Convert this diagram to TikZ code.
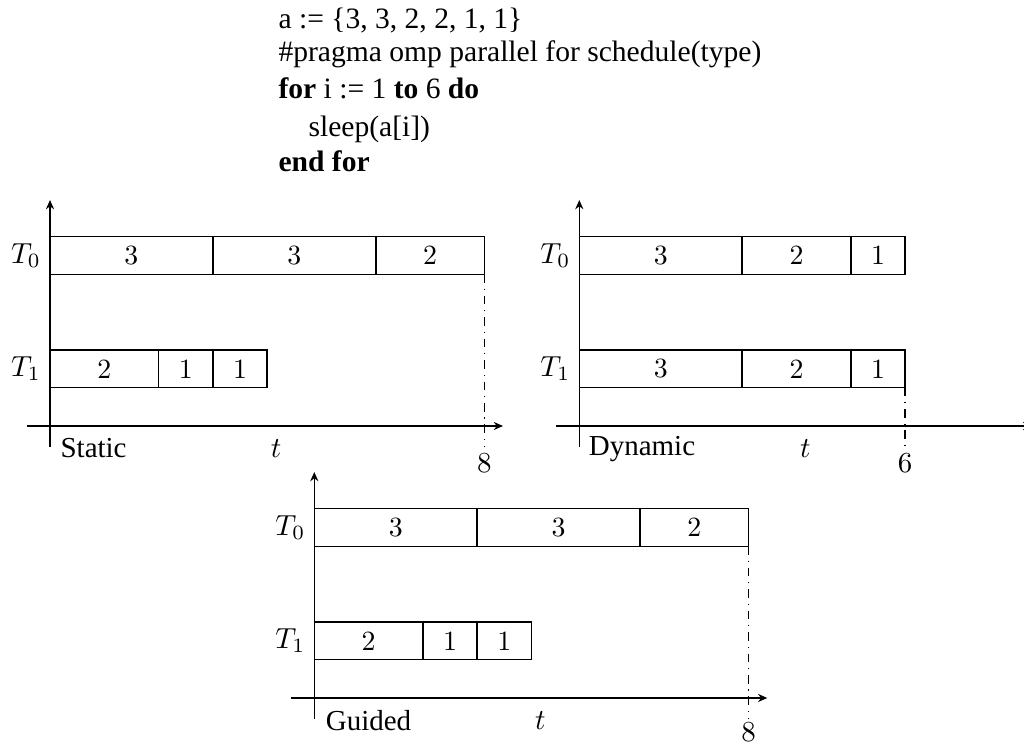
\documentclass[tikz,border=0pt]{standalone}
\usepackage{fontspec}
\newfontfamily\codefont{Liberation Serif}
\usetikzlibrary{arrows.meta}
\tikzset{
  job/.style={draw, line width=0.5pt, rectangle, inner sep=0pt, outer sep=0pt, minimum height=12.97pt, anchor=west, font=\fontsize{9.6}{11}\selectfont},
  wa/.style={minimum width=18.73pt},
  wb/.style={minimum width=37.47pt},
  wc/.style={minimum width=56.2pt},
  axis/.style={line width=0.5pt, -{Stealth[length=3.2pt,width=2.8pt]}},
  guide/.style={dashdotted, line width=0.5pt},
  code/.style={anchor=base west, inner sep=0pt, font=\codefont\fontsize{10.2}{12}\selectfont},
  tlab/.style={inner sep=0pt, font=\fontsize{10}{12}\selectfont},
  kind/.style={anchor=base west, inner sep=0pt, font=\codefont\fontsize{10}{12}\selectfont},
  tick/.style={inner sep=0pt, font=\fontsize{10}{12}\selectfont},
}
\begin{document}
\begin{tikzpicture}[x=0.345pt, y=-0.345pt]
\useasboundingbox (0,0) rectangle (1024,744);
% code
\node[code] (c1) at (278,28.3) {a := \{3, 3, 2, 2, 1, 1\}};
\node[code] (c2) at (278,61.7) {\#pragma omp parallel for schedule(type)};
\node[code] (c3) at (278,99) {\textbf{for} i := 1 \textbf{to} 6 \textbf{do}};
\node[code] (c4) at (308,136.7) {sleep(a[i])};
\node[code] (c5) at (278,171.7) {\textbf{end for}};

% static
\begin{scope}[shift={(50,426)}, name prefix=s-]
  \coordinate (yb) at (0,21);
  \coordinate (yt) at (0,-226);
  \coordinate (xl) at (-23,0);
  \coordinate (xr) at (453,0);
  \draw[axis] (yb) -- (yt);
  \draw[axis] (xl) -- (xr);
  \node[job,wc] (a0) at (0,-170.5) {3};
  \node[job,wc] (a1) at (a0.east) {3};
  \node[job,wb] (a2) at (a1.east) {2};
  \node[job,wb] (b0) at (0,-57.2) {2};
  \node[job,wa] (b1) at (b0.east) {1};
  \node[job,wa] (b2) at (b1.east) {1};
  \node[tlab] (l0) at (-24,-170.5) {$T_0$};
  \node[tlab] (l1) at (-24,-57.2) {$T_1$};
  \node[kind] (nm) at (10,31) {Static};
  \node[tlab, anchor=base] (t) at (226,31) {$t$};
  \coordinate (e) at (a2.south east |- yb);
  \node[tick] (fin) at (434.4,37) {8};
  \draw[guide] (a2.south east) -- (e);
\end{scope}

% dynamic
\begin{scope}[shift={(579.3,426)}, name prefix=d-]
  \coordinate (yb) at (0,21);
  \coordinate (yt) at (0,-226);
  \coordinate (xl) at (-23,0);
  \coordinate (xr) at (453,0);
  \draw[axis] (yb) -- (yt);
  \draw[axis] (xl) -- (xr);
  \node[job,wc] (a0) at (0,-170.5) {3};
  \node[job,wb] (a1) at (a0.east) {2};
  \node[job,wa] (a2) at (a1.east) {1};
  \node[job,wc] (b0) at (0,-57.2) {3};
  \node[job,wb] (b1) at (b0.east) {2};
  \node[job,wa] (b2) at (b1.east) {1};
  \node[tlab] (l0) at (-24,-170.5) {$T_0$};
  \node[tlab] (l1) at (-24,-57.2) {$T_1$};
  \node[kind] (nm) at (9,29) {Dynamic};
  \node[tlab, anchor=base] (t) at (226,31) {$t$};
  \coordinate (e) at (b2.south east |- yb);
  \node[tick] (fin) at (325.8,37) {6};
  \draw[guide] (b2.south east) -- (e);
\end{scope}

% guided
\begin{scope}[shift={(314.3,698)}, name prefix=g-]
  \coordinate (yb) at (0,21);
  \coordinate (yt) at (0,-226);
  \coordinate (xl) at (-23,0);
  \coordinate (xr) at (453,0);
  \draw[axis] (yb) -- (yt);
  \draw[axis] (xl) -- (xr);
  \node[job,wc] (a0) at (0,-170.5) {3};
  \node[job,wc] (a1) at (a0.east) {3};
  \node[job,wb] (a2) at (a1.east) {2};
  \node[job,wb] (b0) at (0,-57.2) {2};
  \node[job,wa] (b1) at (b0.east) {1};
  \node[job,wa] (b2) at (b1.east) {1};
  \node[tlab] (l0) at (-24,-170.5) {$T_0$};
  \node[tlab] (l1) at (-24,-57.2) {$T_1$};
  \node[kind] (nm) at (11,32) {Guided};
  \node[tlab, anchor=base] (t) at (226,31) {$t$};
  \coordinate (e) at (a2.south east |- yb);
  \node[tick] (fin) at (434.4,34.5) {8};
  \draw[guide] (a2.south east) -- (e);
\end{scope}
\end{tikzpicture}
\end{document}
